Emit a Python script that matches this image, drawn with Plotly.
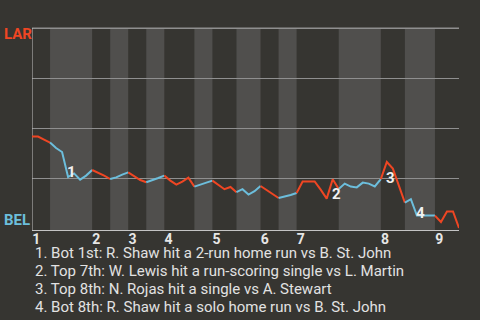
import plotly.graph_objects as go

# LAR win probability after each plate appearance (index 0..71)
win_prob = [0.458, 0.457, 0.442, 0.427, 0.400, 0.380, 0.255, 0.273, 0.242, 0.262,
            0.290, 0.277, 0.262, 0.245, 0.253, 0.267, 0.278, 0.257, 0.240, 0.229,
            0.238, 0.250, 0.262, 0.237, 0.217, 0.232, 0.252, 0.207, 0.217, 0.227,
            0.237, 0.214, 0.194, 0.205, 0.179, 0.194, 0.167, 0.184, 0.210, 0.189,
            0.167, 0.150, 0.157, 0.165, 0.175, 0.232, 0.233, 0.233, 0.192, 0.147,
            0.244, 0.195, 0.222, 0.207, 0.203, 0.227, 0.222, 0.208, 0.244, 0.330,
            0.297, 0.217, 0.127, 0.144, 0.062, 0.062, 0.062, 0.062, 0.030, 0.083,
            0.083, 0.000]

# plate-appearance index where each half inning starts (top 1st .. top 9th, end)
half_starts = [0, 3, 10, 13, 16, 19, 22, 27, 30, 34, 38, 41, 44, 51, 58, 62, 67, 71]
inning_labels = ["1", "2", "3", "4", "5", "6", "7", "8", "9"]

event_index = [6, 50, 59, 64]
event_labels = ["1", "2", "3", "4"]
event_text = [
    "1. Bot 1st: R. Shaw hit a 2-run home run vs B. St. John",
    "2. Top 7th: W. Lewis hit a run-scoring single vs L. Martin",
    "3. Top 8th: N. Rojas hit a single vs A. Stewart",
    "4. Bot 8th: R. Shaw hit a solo home run vs B. St. John",
]

RED = "#ef4623"
BLUE = "#6cbedc"
BG = "#363531"
BAND = "#504f4d"
GRID = "#8f8f8f"
FONT = "Roboto"

W, H = 480, 320
ML, MR, MT, MB = 32, 21, 24, 90
PW, PH = W - ML - MR, H - MT - MB
Y0, Y1 = -0.01, 1.02

def py(ypx):
    # paper fraction for a pixel row
    return (MT + PH - ypx) / PH

fig = go.Figure()

shapes = []
for h in range(len(half_starts) - 1):
    s, e = half_starts[h], half_starts[h + 1]
    color = RED if h % 2 == 0 else BLUE
    fig.add_trace(go.Scatter(
        x=list(range(s, e + 1)), y=win_prob[s:e + 1], mode="lines",
        line=dict(color=color, width=2), hoverinfo="skip", showlegend=False))
    if h % 2 == 1:
        shapes.append(dict(type="rect", xref="x", yref="y", x0=s, x1=e,
                           y0=Y0, y1=1.0, fillcolor=BAND, line=dict(width=0),
                           layer="below"))
# top boundary line at 100%
shapes.append(dict(type="line", xref="x", yref="y", x0=0, x1=half_starts[-1],
                   y0=1.0, y1=1.0, line=dict(color=GRID, width=1.2), layer="between"))

annotations = []
shifts = [(3.5, 5.5), (4, -15), (3.5, -15.5), (3.5, 3)]
for idx, lab, (dx, dy) in zip(event_index, event_labels, shifts):
    annotations.append(dict(x=idx, y=win_prob[idx], xref="x", yref="y", text=lab,
                            showarrow=False, xshift=dx, yshift=dy,
                            font=dict(family=FONT, size=15, color="#f0f0f0", weight="bold")))

for k, t in enumerate(event_text):
    yc = 253 + 18 * k
    annotations.append(dict(x=(33 - ML) / PW, y=py(yc), xref="paper", yref="paper",
                            text=t, showarrow=False, xanchor="left", yanchor="middle",
                            font=dict(family=FONT, size=15, color="#e2e2e2")))

annotations.append(dict(x=(2 - ML) / PW, y=py(34), xref="paper", yref="paper",
                        text="LAR", showarrow=False, xanchor="left", yanchor="middle",
                        font=dict(family=FONT, size=15, color=RED, weight="bold")))
annotations.append(dict(x=(2 - ML) / PW, y=py(219.5), xref="paper", yref="paper",
                        text="BEL", showarrow=False, xanchor="left", yanchor="middle",
                        font=dict(family=FONT, size=15, color=BLUE, weight="bold")))

tick_vals = [half_starts[2 * k] + 0.7 for k in range(len(inning_labels))]

fig.update_layout(
    width=W, height=H, margin=dict(l=ML, r=MR, t=MT, b=MB),
    paper_bgcolor=BG, plot_bgcolor=BG,
    shapes=shapes, annotations=annotations, showlegend=False,
    xaxis=dict(range=[0, half_starts[-1]], tickvals=tick_vals, ticktext=inning_labels,
               showgrid=False, zeroline=False, showline=True, linecolor="#c4c4c4",
               linewidth=1, ticks="", ticklabelstandoff=-4,
               tickfont=dict(family=FONT, size=14, color="#e6e6e6", weight="bold")),
    yaxis=dict(range=[Y0, Y1], tickvals=[0.25, 0.5, 0.75, 1.0], showticklabels=False,
               showgrid=True, gridcolor=GRID, gridwidth=1, zeroline=False,
               showline=False, ticks=""),
)
# left axis line only up to 100%
fig.add_shape(type="line", xref="x", yref="y", x0=0, x1=0, y0=Y0, y1=1.0,
              line=dict(color="#c4c4c4", width=1), layer="between")

fig.write_html("out.html")
